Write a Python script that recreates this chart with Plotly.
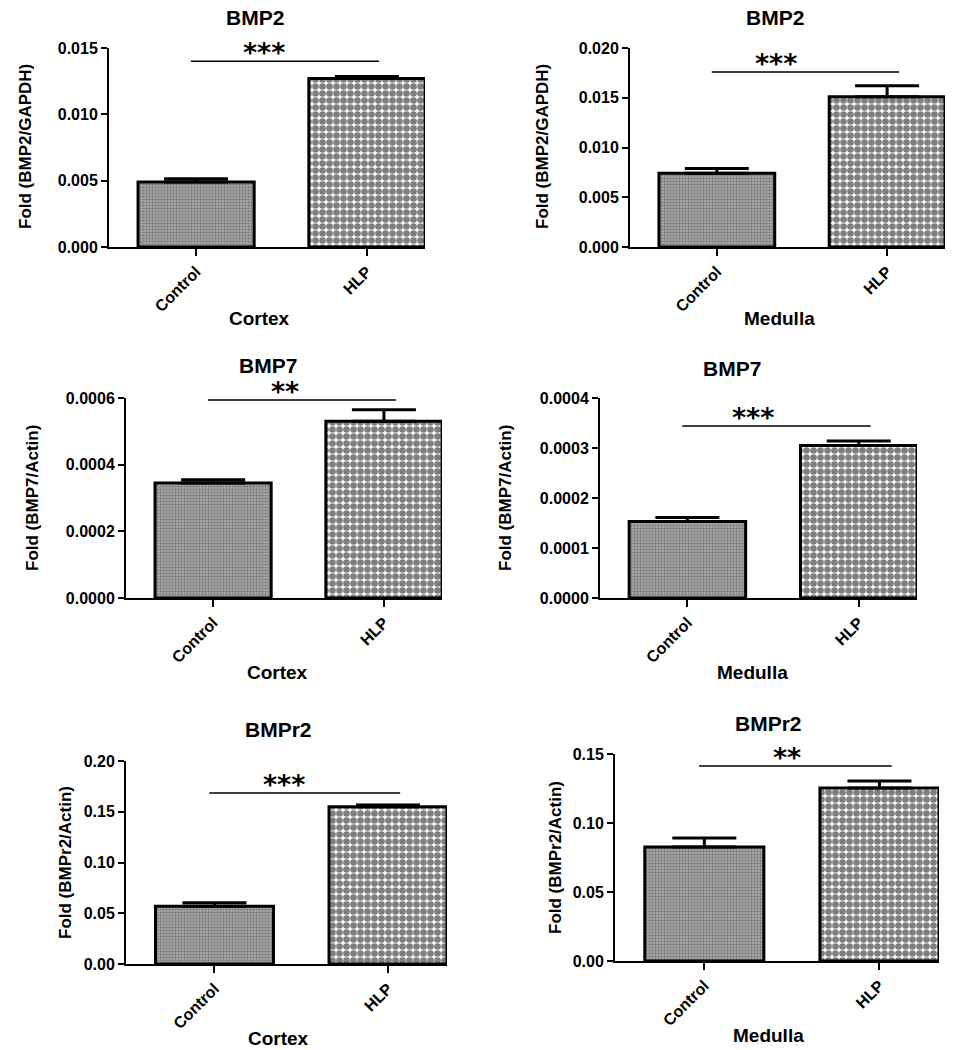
import plotly.graph_objects as go

# ---------------- data ----------------
categories = ["Control", "HLP"]
panel_titles = ["BMP2", "BMP2", "BMP7", "BMP7", "BMPr2", "BMPr2"]
x_titles = ["Cortex", "Medulla", "Cortex", "Medulla", "Cortex", "Medulla"]
y_titles = ["Fold (BMP2/GAPDH)", "Fold (BMP2/GAPDH)",
            "Fold (BMP7/Actin)", "Fold (BMP7/Actin)",
            "Fold (BMPr2/Actin)", "Fold (BMPr2/Actin)"]
control_mean = [0.0049, 0.0074, 0.000345, 0.000153, 0.057, 0.0826]
hlp_mean = [0.0127, 0.0151, 0.00053, 0.000305, 0.155, 0.1254]
control_err = [0.00025, 0.0005, 0.00001, 0.000008, 0.0033, 0.0065]
hlp_err = [0.00015, 0.0011, 0.000035, 0.000009, 0.0016, 0.005]
y_max = [0.015, 0.020, 0.0006, 0.0004, 0.20, 0.15]
y_dtick = [0.005, 0.005, 0.0002, 0.0001, 0.05, 0.05]
y_format = [".3f", ".3f", ".4f", ".4f", ".2f", ".2f"]
sig_y = [0.0140, 0.0176, 0.000594, 0.000344, 0.1685, 0.1413]
sig_label = ["***", "***", "**", "***", "***", "**"]

# ---------------- layout geometry (pixels) ----------------
W, H = 978, 1050
boxes = [(109, 425, 48, 247), (630, 945, 48, 247),
         (126, 442, 398, 598), (600, 917, 398, 598),
         (126, 447, 761, 964), (615, 939, 754, 961)]
title_pos = [(255, 18), (775, 18), (268, 366), (732, 368), (278, 729), (768, 723)]
xtitle_pos = [(259, 318), (779, 318), (277, 672), (752, 672), (278, 1038), (768, 1035)]
ytitle_pos = [(25, 147), (542, 147), (32, 498), (505, 498), (65, 863), (555, 858)]
star_x = [0.40, 0.35, 0.42, 0.38, 0.40, 0.47]


def px(x):
    return x / W


def py(y):
    return 1 - y / H


FONT = "Liberation Sans, Arial, sans-serif"

fig = go.Figure()
annotations = []
shapes = []
for i in range(6):
    n = "" if i == 0 else str(i + 1)
    xa, ya = "x" + n, "y" + n
    x0, x1, yt, yb = boxes[i]
    # control bar
    fig.add_trace(go.Bar(
        x=[categories[0]], y=[control_mean[i]], xaxis=xa, yaxis=ya,
        marker=dict(color="#b0b0b0", line=dict(color="black", width=3),
                    pattern=dict(shape=".", fgcolor="#454545", bgcolor="#b0b0b0",
                                 size=3, solidity=0.5)),
        error_y=dict(type="data", array=[control_err[i]], arrayminus=[0],
                     symmetric=False, color="black", thickness=3, width=32),
        width=0.68, showlegend=False, cliponaxis=False))
    # HLP bar
    fig.add_trace(go.Bar(
        x=[categories[1]], y=[hlp_mean[i]], xaxis=xa, yaxis=ya,
        marker=dict(color="white", line=dict(color="black", width=3),
                    pattern=dict(shape=".", fgcolor="black", bgcolor="white",
                                 size=7, solidity=0.7)),
        error_y=dict(type="data", array=[hlp_err[i]], arrayminus=[0],
                     symmetric=False, color="black", thickness=3, width=32),
        width=0.68, showlegend=False, cliponaxis=False))

    fig.update_layout(**{
        ("xaxis" + n): dict(domain=[px(x0), px(x1)], anchor=ya,
                            range=[-0.51, 1.34], showline=True, linecolor="black",
                            linewidth=2, ticks="outside", ticklen=7, tickwidth=2,
                            tickcolor="black", tickangle=-45, showgrid=False,
                            zeroline=False, automargin=False,
                            tickfont=dict(family=FONT, size=16, color="black", weight="bold")),
        ("yaxis" + n): dict(domain=[py(yb), py(yt)], anchor=xa,
                            range=[0, y_max[i]], dtick=y_dtick[i], tick0=0,
                            tickformat=y_format[i], showline=True, linecolor="black",
                            linewidth=2, ticks="outside", ticklen=6, tickwidth=2,
                            tickcolor="black", showgrid=False, zeroline=False,
                            automargin=False,
                            tickfont=dict(family=FONT, size=16, color="black", weight="bold")),
    })

    shapes.append(dict(type="line", xref=xa, yref=ya, x0=-0.03, x1=1.07,
                       y0=sig_y[i], y1=sig_y[i], line=dict(color="black", width=1.5)))
    annotations.append(dict(xref=xa, yref=ya, x=star_x[i], y=sig_y[i], text=sig_label[i],
                            showarrow=False, yanchor="bottom", yshift=-9,
                            font=dict(family="DejaVu Sans", size=27, color="black",
                                      weight="bold")))
    tx, ty = title_pos[i]
    annotations.append(dict(xref="paper", yref="paper", x=px(tx), y=py(ty),
                            text=panel_titles[i], showarrow=False,
                            xanchor="center", yanchor="middle",
                            font=dict(family=FONT, size=21, color="black", weight="bold")))
    tx, ty = xtitle_pos[i]
    annotations.append(dict(xref="paper", yref="paper", x=px(tx), y=py(ty),
                            text=x_titles[i], showarrow=False,
                            xanchor="center", yanchor="middle",
                            font=dict(family=FONT, size=19, color="black", weight="bold")))
    tx, ty = ytitle_pos[i]
    annotations.append(dict(xref="paper", yref="paper", x=px(tx), y=py(ty),
                            text=y_titles[i], showarrow=False, textangle=-90,
                            xanchor="center", yanchor="middle",
                            font=dict(family=FONT, size=17, color="black", weight="bold")))

fig.update_layout(width=W, height=H, margin=dict(l=0, r=0, t=0, b=0, pad=0),
                  autosize=False,
                  paper_bgcolor="white", plot_bgcolor="white",
                  annotations=annotations, shapes=shapes, bargap=0.32)

fig.write_html("out.html", config={"displayModeBar": False, "responsive": False},
               post_script=("document.body.style.margin='0';"
                            "document.body.style.overflow='hidden';"
                            "document.documentElement.style.overflow='hidden';"))
